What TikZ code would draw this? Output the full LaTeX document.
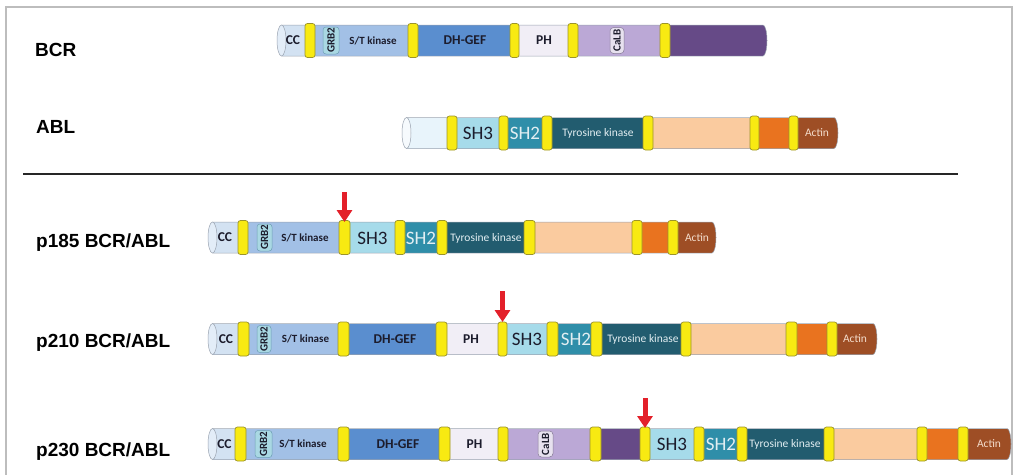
\documentclass[tikz,border=0pt]{standalone}
\usepackage{fontspec}
\usetikzlibrary{arrows.meta}
\newfontfamily\carl{Carlito}
\newfontfamily\labfont{Liberation Sans}
\definecolor{ccface}{HTML}{E3EDF8}
\definecolor{ccblue}{HTML}{D3E2F2}
\definecolor{stblue}{HTML}{A2C0E6}
\definecolor{grbfill}{HTML}{A9D8E3}
\definecolor{grbedge}{HTML}{6E9FB5}
\definecolor{dhblue}{HTML}{5A8ECF}
\definecolor{phfill}{HTML}{F1EEF6}
\definecolor{lavfill}{HTML}{BBA8D6}
\definecolor{calbfill}{HTML}{E7E1EF}
\definecolor{calbedge}{HTML}{857A95}
\definecolor{purp}{HTML}{664A87}
\definecolor{ablfirst}{HTML}{E8F4FB}
\definecolor{ablface}{HTML}{F6FAFD}
\definecolor{shthree}{HTML}{A6DBEA}
\definecolor{shtwo}{HTML}{2F8EA9}
\definecolor{tkfill}{HTML}{225C6F}
\definecolor{peach}{HTML}{FACB9F}
\definecolor{orng}{HTML}{E9731F}
\definecolor{actinfill}{HTML}{9E4E25}
\definecolor{bandyel}{HTML}{F8EA12}
\definecolor{bandedge}{HTML}{9C942A}
\definecolor{edgegray}{HTML}{9AA3B0}
\definecolor{darktxt}{HTML}{1C1C2C}
\definecolor{lighttxt}{HTML}{E2EEF2}
\definecolor{actintxt}{HTML}{F3DCCB}
\definecolor{arrred}{HTML}{E3202A}
\definecolor{framegray}{HTML}{BDBDBD}
\tikzset{
  bandy/.style={fill=bandyel, draw=bandedge, line width=0.7pt, rounded corners=2.5pt},
  edge/.style={draw=edgegray, line width=0.5pt},
  dtxt/.style={font=\carl\bfseries\fontsize{13.5}{13.5}\selectfont, text=darktxt, inner sep=0pt, anchor=base},
  sttxt/.style={font=\carl\bfseries\fontsize{11}{11}\selectfont, text=darktxt, inner sep=0pt, anchor=base},
  shtxt/.style={font=\carl\fontsize{19}{19}\selectfont, inner sep=0pt, anchor=base},
  tktxt/.style={font=\carl\fontsize{11.5}{11.5}\selectfont, inner sep=0pt, anchor=base},
  rottxt/.style={font=\carl\bfseries\fontsize{11}{11}\selectfont, text=darktxt, inner sep=0pt, rotate=90, anchor=center},
  grbbox/.style={fill=grbfill, draw=grbedge, line width=0.5pt, rounded corners=3pt},
  calbbox/.style={fill=calbfill, draw=calbedge, line width=0.5pt, rounded corners=3.5pt},
  rowlab/.style={font=\labfont\bfseries\fontsize{19}{19}\selectfont, text=black, inner sep=0pt, anchor=base west},
  redarr/.style={draw=arrred, line width=5pt, -{Triangle[width=15pt,length=12pt]}}
}
\newcommand\pseg[4]{\fill[#4] (#1,#3-15.5) rectangle (#2,#3+15.5);}
\newcommand\pband[3]{\path[bandy] (#1,#3-17) rectangle (#2,#3+17);}
\newcommand\pright[3]{\fill[#3] (#1,#2-15.5) arc[start angle=-90,end angle=90,x radius=4,y radius=15.5] -- cycle;}
\newcommand\poutline[3]{\draw[edge] (#1+4.5,#3-15.5) -- (#2,#3-15.5) arc[start angle=-90,end angle=90,x radius=4,y radius=15.5] -- (#1+4.5,#3+15.5);}
\newcommand\pface[3]{\path[fill=#3, draw=edgegray, line width=0.5pt] (#1+4.5,#2) ellipse [x radius=4.5, y radius=15.5];}
\begin{document}
\begin{tikzpicture}[x=1pt,y=-1pt]
\useasboundingbox (0,0) rectangle (1017,474);
\fill[white] (0,0) rectangle (1017,474);
\draw[framegray, line width=1.2pt] (6,480) -- (6,7) -- (1012,7) -- (1012,480);

% separator
\coordinate (sepL) at (23,174);
\coordinate (sepR) at (958,174);
\draw[line width=1.8pt, black!85] (sepL) -- (sepR);

% labels
\node[rowlab] (labBCR) at (35,56) {BCR};
\node[rowlab] (labABL) at (36,133) {ABL};
\node[rowlab] (lab185) at (36,247) {p185 BCR/ABL};
\node[rowlab] (lab210) at (36,347) {p210 BCR/ABL};
\node[rowlab] (lab230) at (36,456) {p230 BCR/ABL};

% ---------------- BCR (yc=40.5)
\pseg{281.5}{305}{40.5}{ccblue}
\pseg{305}{408}{40.5}{stblue}
\pseg{408}{510}{40.5}{dhblue}
\pseg{510}{568}{40.5}{phfill}
\pseg{568}{660}{40.5}{lavfill}
\pseg{660}{763}{40.5}{purp}
\pright{763}{40.5}{purp}
\poutline{277}{763}{40.5}
\pface{277}{40.5}{ccface}
\pband{305}{315}{40.5}
\pband{408}{418}{40.5}
\pband{510}{519}{40.5}
\pband{568}{578}{40.5}
\pband{660}{670}{40.5}
\path[grbbox] (323,27) rectangle (339,54);
\path[calbbox] (610,27.5) rectangle (624,53.5);
\node[dtxt] (bcrCC) at (293,44.8) {CC};
\node[rottxt] (bcrGRB) at (331,40.5) {GRB2};
\node[sttxt] (bcrST) at (373,44.1) {S/T kinase};
\node[dtxt] (bcrDH) at (465,44.8) {DH-GEF};
\node[dtxt] (bcrPH) at (544,44.8) {PH};
\node[rottxt] (bcrCaLB) at (617,40.5) {CaLB};

% ---------------- ABL (yc=133)
\pseg{406.5}{447}{133}{ablfirst}
\pseg{447}{499}{133}{shthree}
\pseg{499}{542}{133}{shtwo}
\pseg{542}{643}{133}{tkfill}
\pseg{643}{750}{133}{peach}
\pseg{750}{789}{133}{orng}
\pseg{789}{834}{133}{actinfill}
\pright{834}{133}{actinfill}
\poutline{402}{834}{133}
\pface{402}{133}{ablface}
\pband{447}{457}{133}
\pband{499}{508}{133}
\pband{542}{552}{133}
\pband{643}{653}{133}
\pband{750}{759}{133}
\pband{789}{798}{133}
\node[shtxt, text=darktxt] (ablSH3) at (478,139.5) {SH3};
\node[shtxt, text=lighttxt] (ablSH2) at (525,139.5) {SH2};
\node[tktxt, text=lighttxt] (ablTK) at (598,136.7) {Tyrosine kinase};
\node[tktxt, text=actintxt] (ablAct) at (817,136.7) {Actin};

% ---------------- p185 (yc=237.5)
\pseg{212.5}{238}{237.5}{ccblue}
\pseg{238}{339}{237.5}{stblue}
\pseg{339}{395}{237.5}{shthree}
\pseg{395}{437}{237.5}{shtwo}
\pseg{437}{524}{237.5}{tkfill}
\pseg{524}{632}{237.5}{peach}
\pseg{632}{668}{237.5}{orng}
\pseg{668}{712}{237.5}{actinfill}
\pright{712}{237.5}{actinfill}
\poutline{208}{712}{237.5}
\pface{208}{237.5}{ccface}
\pband{238}{248}{237.5}
\pband{339}{350}{237.5}
\pband{395}{405}{237.5}
\pband{437}{447}{237.5}
\pband{524}{535}{237.5}
\pband{632}{642}{237.5}
\pband{668}{678}{237.5}
\path[grbbox] (257,224) rectangle (272,251);
\node[dtxt] (p185CC) at (225,241.8) {CC};
\node[rottxt] (p185GRB) at (264.5,237.5) {GRB2};
\node[sttxt] (p185ST) at (305,241.1) {S/T kinase};
\node[shtxt, text=darktxt] (p185SH3) at (372.5,244) {SH3};
\node[shtxt, text=lighttxt] (p185SH2) at (421,244) {SH2};
\node[tktxt, text=lighttxt] (p185TK) at (486,241.2) {Tyrosine kinase};
\node[tktxt, text=actintxt] (p185Act) at (697,241.2) {Actin};
\coordinate (a185s) at (344.5,192);
\coordinate (a185e) at (344.5,222);
\draw[redarr] (a185s) -- (a185e);

% ---------------- p210 (yc=339)
\pseg{212.5}{238}{339}{ccblue}
\pseg{238}{338}{339}{stblue}
\pseg{338}{436}{339}{dhblue}
\pseg{436}{498}{339}{phfill}
\pseg{498}{547}{339}{shthree}
\pseg{547}{591}{339}{shtwo}
\pseg{591}{681}{339}{tkfill}
\pseg{681}{786}{339}{peach}
\pseg{786}{827}{339}{orng}
\pseg{827}{873}{339}{actinfill}
\pright{873}{339}{actinfill}
\poutline{208}{873}{339}
\pface{208}{339}{ccface}
\pband{238}{249}{339}
\pband{338}{349}{339}
\pband{436}{447}{339}
\pband{498}{507}{339}
\pband{547}{558}{339}
\pband{591}{602}{339}
\pband{681}{691}{339}
\pband{786}{797}{339}
\pband{827}{837}{339}
\path[grbbox] (257,325.5) rectangle (271,352.5);
\node[dtxt] (p210CC) at (226,343.3) {CC};
\node[rottxt] (p210GRB) at (264,339) {GRB2};
\node[sttxt] (p210ST) at (305.5,342.6) {S/T kinase};
\node[dtxt] (p210DH) at (395,343.3) {DH-GEF};
\node[dtxt] (p210PH) at (471,343.3) {PH};
\node[shtxt, text=darktxt] (p210SH3) at (527,345.5) {SH3};
\node[shtxt, text=lighttxt] (p210SH2) at (576,345.5) {SH2};
\node[tktxt, text=lighttxt] (p210TK) at (643,342.7) {Tyrosine kinase};
\node[tktxt, text=actintxt] (p210Act) at (855,342.7) {Actin};
\coordinate (a210s) at (502.5,291);
\coordinate (a210e) at (502.5,322);
\draw[redarr] (a210s) -- (a210e);

% ---------------- p230 (yc=444)
\pseg{212.5}{235}{444}{ccblue}
\pseg{235}{338}{444}{stblue}
\pseg{338}{439}{444}{dhblue}
\pseg{439}{498}{444}{phfill}
\pseg{498}{590}{444}{lavfill}
\pseg{590}{640}{444}{purp}
\pseg{640}{694}{444}{shthree}
\pseg{694}{737}{444}{shtwo}
\pseg{737}{824}{444}{tkfill}
\pseg{824}{917}{444}{peach}
\pseg{917}{958}{444}{orng}
\pseg{958}{1007}{444}{actinfill}
\pright{1007}{444}{actinfill}
\poutline{208}{1007}{444}
\pface{208}{444}{ccface}
\pband{235}{246}{444}
\pband{338}{349}{444}
\pband{439}{450}{444}
\pband{498}{508}{444}
\pband{590}{601}{444}
\pband{640}{650}{444}
\pband{694}{704}{444}
\pband{737}{747}{444}
\pband{824}{834}{444}
\pband{917}{927}{444}
\pband{958}{968}{444}
\path[grbbox] (255,430.5) rectangle (272,457.5);
\path[calbbox] (538,431) rectangle (553,457);
\node[dtxt] (p230CC) at (224.5,448.3) {CC};
\node[rottxt] (p230GRB) at (263.5,444) {GRB2};
\node[sttxt] (p230ST) at (303,447.6) {S/T kinase};
\node[dtxt] (p230DH) at (398,448.3) {DH-GEF};
\node[dtxt] (p230PH) at (474.5,448.3) {PH};
\node[rottxt] (p230CaLB) at (545.5,444) {CaLB};
\node[shtxt, text=darktxt] (p230SH3) at (672,450.5) {SH3};
\node[shtxt, text=lighttxt] (p230SH2) at (721,450.5) {SH2};
\node[tktxt, text=lighttxt] (p230TK) at (785,447.7) {Tyrosine kinase};
\node[tktxt, text=actintxt] (p230Act) at (989,447.7) {Actin};
\coordinate (a230s) at (645,398);
\coordinate (a230e) at (645,428);
\draw[redarr] (a230s) -- (a230e);
\end{tikzpicture}
\end{document}
